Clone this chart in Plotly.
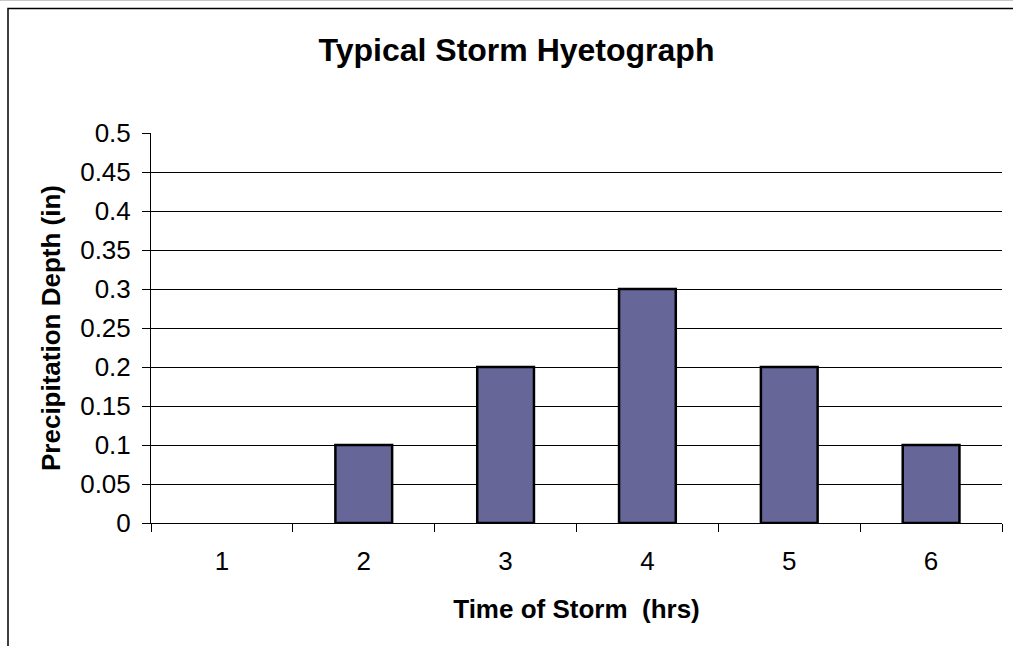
import plotly.graph_objects as go

hours = ["1", "2", "3", "4", "5", "6"]
depth_in = [0.0, 0.1, 0.2, 0.3, 0.2, 0.1]
y_ticks = [0, 0.05, 0.1, 0.15, 0.2, 0.25, 0.3, 0.35, 0.4, 0.45, 0.5]
y_tick_labels = ["0", "0.05", "0.1", "0.15", "0.2", "0.25", "0.3", "0.35", "0.4", "0.45", "0.5"]

FONT = "Liberation Sans, Arial, sans-serif"

fig = go.Figure()
fig.add_trace(go.Bar(
    x=hours, y=depth_in,
    marker=dict(color="#666699",
                line=dict(color="black", width=[0 if v == 0 else 2.5 for v in depth_in])),
))

shapes = []
# outer chart frame (extends beyond the visible image on right and bottom)
shapes.append(dict(type="rect", xref="paper", yref="paper",
                   x0=(8 - 151) / 851, x1=(1030 - 151) / 851,
                   y0=(523 - 660) / 390, y1=(523 - 8.5) / 390,
                   line=dict(color="black", width=1.5), fillcolor="rgba(0,0,0,0)", layer="below"))
shapes.append(dict(type="line", xref="paper", yref="paper",
                   x0=(0 - 151) / 851, x1=(1030 - 151) / 851,
                   y0=(523 - 0.5) / 390, y1=(523 - 0.5) / 390,
                   line=dict(color="#c8c8c8", width=1), layer="below"))

fig.update_layout(
    width=1013, height=646,
    margin=dict(l=151, r=11, t=133, b=123),
    paper_bgcolor="white", plot_bgcolor="white",
    bargap=0.6, showlegend=False,
    font=dict(family=FONT, color="black", size=26),
    title=dict(text="<b>Typical Storm Hyetograph</b>", font=dict(family=FONT, size=32, color="black"),
               x=516.5 / 1013, xref="container", xanchor="center",
               y=1 - 50 / 646, yref="container", yanchor="middle"),
    shapes=shapes,
    xaxis=dict(
        type="category", showline=True, linecolor="black", linewidth=1,
        ticks="outside", tickson="boundaries", ticklen=8, tickcolor="black", tickwidth=1,
        showgrid=False, ticklabelstandoff=15,
        tickfont=dict(family=FONT, size=26, color="black"),
        title=dict(text="<b>Time of Storm\u00a0\u00a0(hrs)</b>", standoff=24,
                   font=dict(family=FONT, size=26, color="black")),
    ),
    yaxis=dict(
        range=[0, 0.5], tickvals=y_ticks, ticktext=y_tick_labels,
        showline=True, linecolor="black", linewidth=1,
        ticks="outside", ticklen=8, tickcolor="black", tickwidth=1,
        showgrid=True, gridcolor="black", gridwidth=1, zeroline=False, ticklabelstandoff=6,
        tickfont=dict(family=FONT, size=26, color="black"),
        title=dict(text="<b>Precipitation Depth (in)</b>", standoff=12,
                   font=dict(family=FONT, size=26, color="black")),
    ),
)

fig.write_html("out.html")
